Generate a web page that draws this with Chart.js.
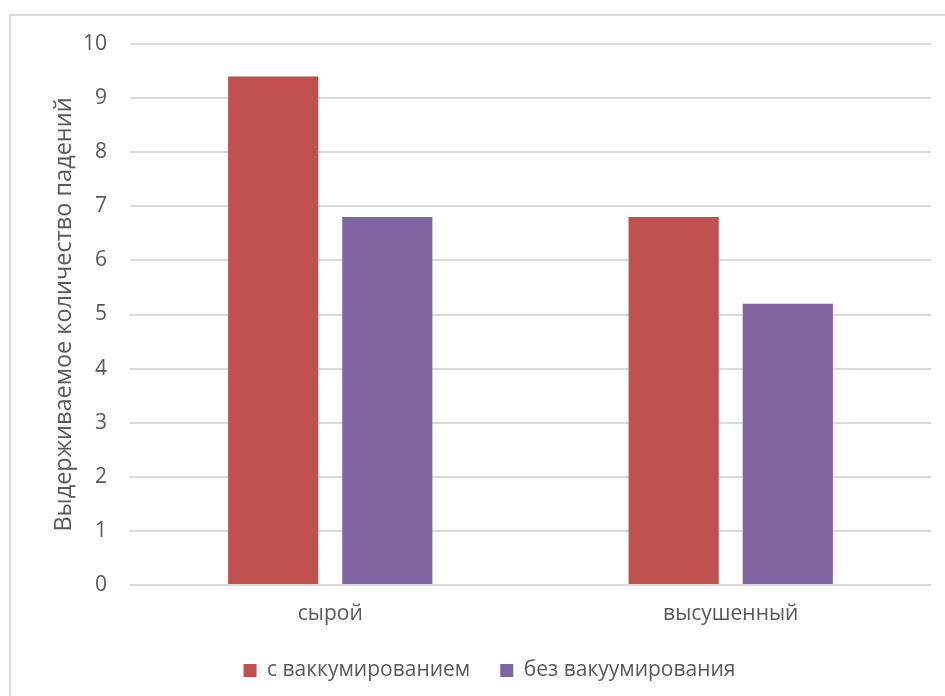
<!DOCTYPE html>
<html lang="ru">
<head>
<meta charset="UTF-8">
<title>Выдерживаемое количество падений</title>
<script src="https://cdn.jsdelivr.net/npm/chart.js"></script>
<style>
    html, body { margin: 0; padding: 0; background: #fff; overflow: hidden; }
    .frame {
        position: absolute; left: 9px; top: 14px;
        width: 960px; height: 700px;
        border-left: 2px solid #d9d9d9; border-top: 2px solid #d9d9d9;
    }
    #chart { position: absolute; left: 0; top: 0; }
</style>
</head>
<body>
<div class="frame"></div>
<canvas id="chart" width="945" height="696"></canvas>
<script>
    // данные диаграммы
    const categories = ['сырой', 'высушенный'];
    const seriesNames = ['с ваккумированием', 'без вакуумирования'];
    const withVacuum = [9.4, 6.8];
    const withoutVacuum = [6.8, 5.2];
    const yTicks = [0, 1, 2, 3, 4, 5, 6, 7, 8, 9, 10];

    const textColor = '#595959';
    const font = { family: '"Open Sans", sans-serif', size: 21 };

    const config = {
        type: 'bar',
        data: {
            labels: categories,
            datasets: [{
                label: seriesNames[0],
                data: withVacuum,
                backgroundColor: '#c0504d',
                categoryPercentage: 0.57,
                barPercentage: 0.79
            }, {
                label: seriesNames[1],
                data: withoutVacuum,
                backgroundColor: '#8064a2',
                categoryPercentage: 0.57,
                barPercentage: 0.79
            }]
        },
        options: {
            responsive: false,
            animation: false,
            layout: { padding: { left: 48, right: 14, top: 44, bottom: 5 } },
            plugins: {
                tooltip: { enabled: false },
                legend: {
                    position: 'bottom',
                    labels: {
                        color: textColor,
                        font: font,
                        boxWidth: 13,
                        boxHeight: 13,
                        padding: 30
                    }
                }
            },
            scales: {
                x: {
                    grid: { display: false, drawTicks: false },
                    border: { display: false },
                    ticks: { color: textColor, font: font, padding: 16 },
                    afterFit: (s) => { s.height = 45; }
                },
                y: {
                    min: 0,
                    max: 10,
                    afterBuildTicks: (s) => { s.ticks = yTicks.map(v => ({ value: v })); },
                    grid: { color: '#d9d9d9', lineWidth: 2, drawTicks: false },
                    border: { display: false },
                    ticks: { color: textColor, font: font, padding: 23 },
                    title: {
                        display: true,
                        text: 'Выдерживаемое количество падений',
                        color: textColor,
                        font: { family: '"Open Sans", sans-serif', size: 23.5 },
                        padding: { top: 2, bottom: 0 }
                    },
                    afterFit: (s) => { s.width = 82; }
                }
            }
        }
    };

    new Chart(document.getElementById('chart'), config);
</script>
</body>
</html>
